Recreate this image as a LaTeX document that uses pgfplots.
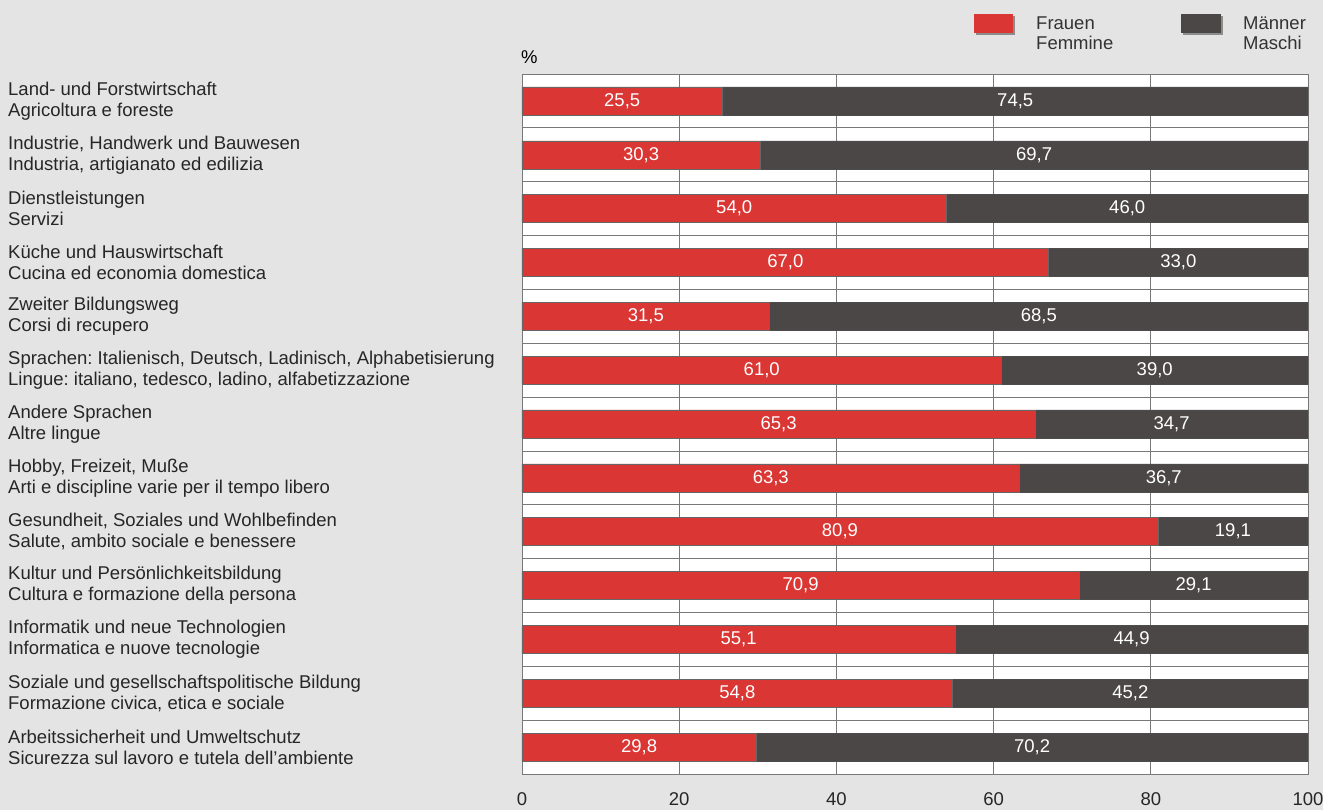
\documentclass[border=0pt]{standalone}
\usepackage{pgfplots}
\pgfplotsset{compat=1.18}
\usepackage{pgfplotstable}
\usepackage{fontspec}
\setmainfont{Liberation Sans}
\frenchspacing

\definecolor{bg}{RGB}{228,228,228}
\definecolor{fred}{RGB}{218,54,52}
\definecolor{mgray}{RGB}{75,71,71}
\definecolor{gridc}{RGB}{120,120,120}

% idx  Frauen  Maenner
\pgfplotstableread{
idx f    m
0   25.5 74.5
1   30.3 69.7
2   54.0 46.0
3   67.0 33.0
4   31.5 68.5
5   61.0 39.0
6   65.3 34.7
7   63.3 36.7
8   80.9 19.1
9   70.9 29.1
10  55.1 44.9
11  54.8 45.2
12  29.8 70.2
}\shares

\begin{document}
\begin{tikzpicture}[x=1pt,y=1pt]
\fill[bg] (0,0) rectangle (1323,810);

\begin{axis}[
    at={(522pt,36pt)}, anchor=south west,
    scale only axis, width=786pt, height=700pt,
    xbar stacked, bar width=28pt,
    xmin=0, xmax=100, ymin=-0.5, ymax=12.5,
    y dir=reverse,
    axis background/.style={fill=white},
    axis line style={gridc, line width=0.8pt},
    xtick={0,20,...,100}, major tick length=0pt,
    xmajorgrids, grid style={gridc, line width=0.7pt},
    ytick={0,...,12},
    minor ytick={-0.5,0.5,...,12.5}, yminorgrids,
    minor grid style={gridc, line width=0.7pt},
    minor tick length=0pt,
    /pgf/number format/assume math mode=true,
    tick label style={font=\fontsize{18.5}{21}\selectfont, text=black!85},
    xticklabel style={anchor=center, yshift=-25pt},
    yticklabel style={anchor=west, xshift=-514pt, align=left, inner sep=0pt,
        font=\fontsize{18.5}{21}\selectfont},
    yticklabels={
        {Land- und Forstwirtschaft\\Agricoltura e foreste},
        {Industrie, Handwerk und Bauwesen\\Industria, artigianato ed edilizia},
        {Dienstleistungen\\Servizi},
        {Küche und Hauswirtschaft\\Cucina ed economia domestica},
        {Zweiter Bildungsweg\\Corsi di recupero},
        {Sprachen: Italienisch, Deutsch, Ladinisch, Alphabetisierung\\Lingue: italiano, tedesco, ladino, alfabetizzazione},
        {Andere Sprachen\\Altre lingue},
        {Hobby, Freizeit, Muße\\Arti e discipline varie per il tempo libero},
        {Gesundheit, Soziales und Wohlbefinden\\Salute, ambito sociale e benessere},
        {Kultur und Persönlichkeitsbildung\\Cultura e formazione della persona},
        {Informatik und neue Technologien\\Informatica e nuove tecnologie},
        {Soziale und gesellschaftspolitische Bildung\\Formazione civica, etica e sociale},
        {Arbeitssicherheit und Umweltschutz\\Sicurezza sul lavoro e tutela dell’ambiente}
    },
    point meta=explicit,
    nodes near coords={\pgfmathprintnumber[fixed,fixed zerofill,precision=1,use comma,assume math mode=true]{\pgfplotspointmeta}},
    every node near coord/.style={anchor=center, text=white,
        font=\fontsize{18.5}{21}\selectfont},
]
\addplot[fill=fred, draw=black!60, line width=0.5pt]
    table[x=f, y=idx, meta=f] {\shares};
\addplot[fill=mgray, draw=black!70, line width=0.5pt]
    table[x=m, y=idx, meta=m] {\shares};
\end{axis}

\node[anchor=west, inner sep=0pt, font=\fontsize{18.5}{21}\selectfont] at (521,753) {\%};

% legend
\fill[black!45] (976,775) rectangle (1015,794);
\fill[fred] (974,777) rectangle (1013,796);
\node[anchor=west, inner sep=0pt, align=left, text=black!80,
      font=\fontsize{18.5}{20}\selectfont] at (1036,776.5) {Frauen\\Femmine};
\fill[black!45] (1183,775) rectangle (1223,794);
\fill[mgray] (1181,777) rectangle (1221,796);
\node[anchor=west, inner sep=0pt, align=left, text=black!80,
      font=\fontsize{18.5}{20}\selectfont] at (1243,776.5) {Männer\\Maschi};

\pgfresetboundingbox
\path[use as bounding box] (0,0) rectangle (1323,810);
\end{tikzpicture}
\end{document}
